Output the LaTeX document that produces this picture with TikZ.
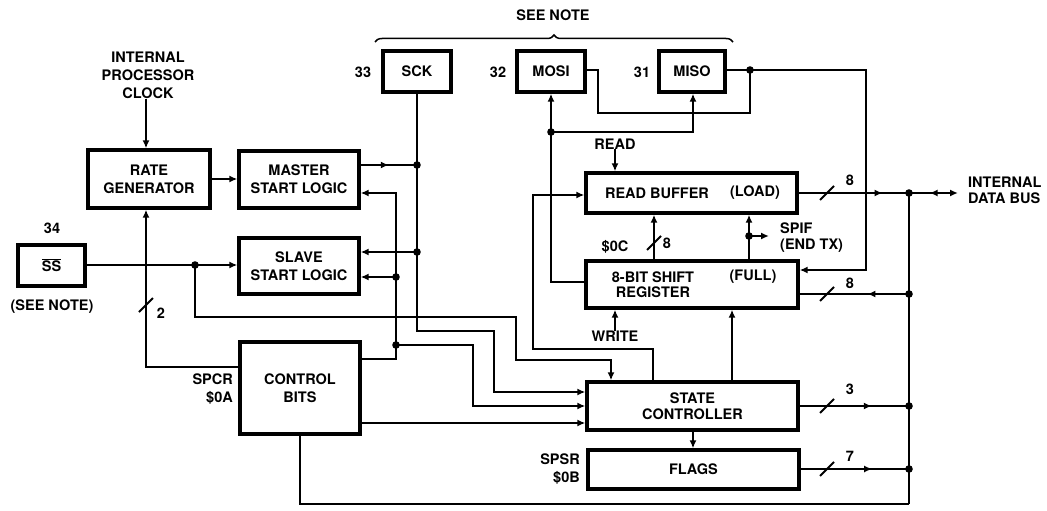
\documentclass[tikz,border=0pt]{standalone}
\usepackage{fontspec}
\setmainfont{TeX Gyre Heros}
\usetikzlibrary{arrows.meta,decorations.markings,decorations.pathreplacing,calc}
\begin{document}
\begin{tikzpicture}[x=1pt,y=-1pt,
  every node/.style={font=\bfseries\fontsize{14.5}{18}\selectfont},
  box/.style={draw,line width=3.3pt,inner sep=0pt,align=center},
  wire/.style={line width=1.8pt},
  arr/.style={wire,-{Latex[length=8pt,width=7pt]}},
  bus/.style={line width=2.8pt},
  lbl/.style={inner sep=0pt,align=center},
  tight/.style={font=\bfseries\fontsize{14.5}{15.5}\selectfont},
  midarrow/.style={postaction={decorate},decoration={markings,mark=at position #1 with {\arrow{Latex[length=8pt,width=7pt]}}}},
  midarrowrev/.style={postaction={decorate},decoration={markings,mark=at position #1 with {\arrowreversed{Latex[length=8pt,width=7pt]}}}},
]
\useasboundingbox (0,0) rectangle (1047,511);

% ---------- boxes ----------
\node[box,minimum width=122pt,minimum height=58pt] (rate) at (149,179) {RATE\\GENERATOR};
\node[box,minimum width=120pt,minimum height=57pt] (master) at (299,179.5) {MASTER\\START LOGIC};
\node[box,minimum width=120pt,minimum height=56pt] (slave) at (299,266) {SLAVE\\START LOGIC};
\node[box,minimum width=67pt,minimum height=41pt] (ss) at (51.5,265.5) {$\overline{\hbox{SS}}$};
\node[box,minimum width=120pt,minimum height=92pt] (ctrl) at (300,388) {CONTROL\\BITS};
\node[box,minimum width=68pt,minimum height=41pt] (sck) at (417,71.5) {SCK};
\node[box,minimum width=68pt,minimum height=41pt] (mosi) at (551,71.5) {MOSI};
\node[box,minimum width=66pt,minimum height=41pt] (miso) at (692,71.5) {MISO};
\node[box,minimum width=211pt,minimum height=40pt] (rb) at (691.5,193) {};
\node[box,minimum width=212pt,minimum height=47pt] (sr) at (692,284.5) {};
\node[box,minimum width=211pt,minimum height=48pt,tight] (sc) at (692.5,406) {STATE\\CONTROLLER};
\node[box,minimum width=211pt,minimum height=39pt] (flags) at (693.5,469.5) {FLAGS};

% ---------- texts ----------
\node[lbl] (clk) at (148,75) {INTERNAL\\PROCESSOR\\CLOCK};
\node[lbl] (rbt) at (657,193) {READ BUFFER};
\node[lbl] (load) at (755,193) {(LOAD)};
\node[lbl,tight] (srt) at (653,284.5) {8-BIT SHIFT\\REGISTER};
\node[lbl] (full) at (753,277) {(FULL)};
\node[lbl] (n34) at (52,228) {34};
\node[lbl] (n33) at (363,72) {33};
\node[lbl] (n32) at (498,72) {32};
\node[lbl] (n31) at (642,72) {31};
\node[lbl] (ssnote) at (52,307) {(SEE NOTE)};
\node[lbl,align=right,anchor=east] (spcr) at (233,389) {SPCR\\\$0A};
\node[lbl,align=right,anchor=east] (spsr) at (580,469) {SPSR\\\$0B};
\node[lbl] (seenote) at (553,15) {SEE NOTE};
\node[lbl] (read) at (615,144) {READ};
\node[lbl] (write) at (615,336) {WRITE};
\node[lbl] (s0c) at (615,247) {\$0C};
\node[lbl,tight,align=left,anchor=west] (spif) at (780,237.5) {SPIF\\(END TX)};
\node[lbl,tight,align=left,anchor=west] (idb) at (968,190.5) {INTERNAL\\DATA BUS};
\node[lbl] (w2) at (161,313) {2};
\node[lbl] (w8a) at (667,243) {8};
\node[lbl] (w8b) at (850,180) {8};
\node[lbl] (w8c) at (850,283) {8};
\node[lbl] (w3) at (850,389) {3};
\node[lbl] (w7) at (850,456) {7};

% brace
\draw[line width=1.5pt,decorate,decoration={brace,amplitude=7pt}] (375,42) -- (733,42);

% ---------- junctions ----------
\coordinate (jsck1) at (417,165);
\coordinate (jsck2) at (417,252);
\coordinate (jsel1) at (396,277);
\coordinate (jsel2) at (396,345);
\coordinate (jss) at (195,265);
\coordinate (jmosi) at (551,132);
\coordinate (jmiso) at (750,70);
\coordinate (jspif) at (749,236);
\coordinate (spifend) at (769,236);
\coordinate (b1) at (909,193);
\coordinate (b2) at (909,294);
\coordinate (b3) at (909,406);
\coordinate (b4) at (909,469);
\coordinate (bb) at (909,504);
\coordinate (busend) at (958,193);

% ---------- wires ----------
\draw[arr] (clk.south -| 146,0) -- (rate.north -| 146,0);
\draw[arr] (rate.east) -- (rate.east -| master.west);
\draw[wire,midarrow=0.5] (master.east |- jsck1) -- (jsck1);
\draw[arr] (sck.south) -- (jsck1) -- (jsck2) -- (417,331) -- (494,331) -- (494,392) -- (sc.west |- 0,392);
\draw[arr] (jsck2) -- (slave.east |- jsck2);
\draw[arr] (jsel2) -- (jsel1) -- (396,193) -- (master.east |- 0,193);
\draw[arr] (jsel1) -- (slave.east |- jsel1);
\draw[wire] (ctrl.east |- 0,359) -- (396,359) -- (jsel2);
\draw[arr] (jsel2) -- (473,345) -- (473,406) -- (sc.west |- 0,406);
\draw[arr] (ctrl.east |- 0,423) -- (sc.west |- 0,423);
\draw[arr] (ss.east |- jss) -- (jss) -- (slave.west |- jss);
\draw[arr] (jss) -- (195,317) -- (516,317) -- (516,360) -- (611,360) -- (sc.north -| 611,0);
\draw[arr] (ctrl.west |- 0,367) -- (146,367) -- (rate.south -| 146,0);
\draw[wire] (146,305) ++(-7,7) -- ++(14,-14);
\draw[arr] (sc.north -| 653,0) -- (653,349) -- (533,349) -- (533,195) -- (rb.west |- 0,195);
\draw[arr] (sr.west |- 0,282) -- (551,282) -- (jmosi) -- (mosi.south);
\draw[arr] (jmosi) -- (693,132) -- (miso.south -| 693,0);
\draw[wire] (mosi.east |- 0,70) -- (598,70) -- (598,113) -- (750,113) -- (jmiso);
\draw[arr] (miso.east |- jmiso) -- (jmiso) -- (866,70) -- (866,270) -- (sr.east |- 0,270);
\draw[arr] (read.south) -- (read.south |- rb.north);
\draw[arr] (sr.north -| 654,0) -- (rb.south -| 654,0);
\draw[wire] (654,243) ++(-7,7) -- ++(14,-14);
\draw[arr] (sr.north -| jspif) -- (jspif) -- (rb.south -| jspif);
\draw[arr] (jspif) -- (spifend);
\draw[arr] (write.north) -- (write.north |- sr.south);
\draw[arr] (sc.north -| 732,0) -- (sr.south -| 732,0);
\draw[arr] (sc.south -| 693,0) -- (flags.north -| 693,0);
\draw[wire,midarrow=0.76] (rb.east) -- (b1);
\draw[wire] (827,193) ++(-7,7) -- ++(14,-14);
\draw[wire,midarrow=0.38] (b2) -- (sr.east |- b2);
\draw[wire] (827,294) ++(-7,7) -- ++(14,-14);
\draw[wire,midarrow=0.66] (sc.east) -- (b3);
\draw[wire] (827,406) ++(-7,7) -- ++(14,-14);
\draw[wire,midarrow=0.66] (flags.east |- b4) -- (b4);
\draw[wire] (827,469) ++(-7,7) -- ++(14,-14);
\draw[wire] (ctrl.south) -- (300,504) -- (bb);
\draw[bus] (bb) -- (b4) -- (b3) -- (b2) -- (b1);
\draw[arr,midarrowrev=0.42] (b1) -- (busend);

% ---------- dots ----------
\foreach \p in {jsck1,jsck2,jsel1,jsel2,jss,jmosi,jmiso,jspif,b1,b2,b3,b4}
  \fill (\p) circle (3.8pt);
\end{tikzpicture}
\end{document}
